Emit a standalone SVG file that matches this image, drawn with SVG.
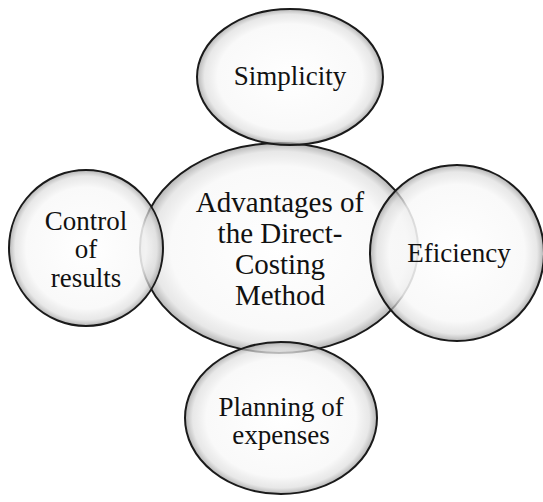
<svg xmlns="http://www.w3.org/2000/svg" width="543" height="502" viewBox="0 0 543 502">
  <style>
    .bubble { fill: url(#glass); stroke: #1a1a1a; stroke-width: 2; }
    text { font-family: "Liberation Serif", "Times New Roman", Times, serif; fill: #111; text-anchor: middle; }
    .small { font-size: 27px; }
    .big { font-size: 29px; }
  </style>
  <defs>
    <!-- glassy bubble: white core, grey rim, partly see-through so overlaps darken -->
    <radialGradient id="glass" cx="0.5" cy="0.5" r="0.5">
      <stop offset="0" stop-color="#ffffff" stop-opacity="0.92"/>
      <stop offset="0.78" stop-color="#f8f8f8" stop-opacity="0.85"/>
      <stop offset="0.92" stop-color="#dedede" stop-opacity="0.7"/>
      <stop offset="1" stop-color="#9c9c9c" stop-opacity="0.75"/>
    </radialGradient>
  </defs>

  <rect width="543" height="502" fill="#ffffff"/>

  <g id="connectors"/>

  <g id="node-center">
    <ellipse class="bubble" cx="279" cy="248" rx="139" ry="105"/>
    <text class="big" x="280" y="212">Advantages of</text>
    <text class="big" x="280" y="243">the Direct-</text>
    <text class="big" x="280" y="274">Costing</text>
    <text class="big" x="280" y="305">Method</text>
  </g>

  <g id="node-simplicity">
    <ellipse class="bubble" cx="290" cy="77" rx="93" ry="68"/>
    <text class="small" x="290" y="85">Simplicity</text>
  </g>

  <g id="node-control">
    <ellipse class="bubble" cx="86" cy="248" rx="77" ry="78"/>
    <text class="small" x="86" y="230">Control</text>
    <text class="small" x="86" y="258">of</text>
    <text class="small" x="86" y="287">results</text>
  </g>

  <g id="node-efficiency">
    <ellipse class="bubble" cx="457" cy="253" rx="87" ry="88"/>
    <text class="small" x="459" y="262">Eficiency</text>
  </g>

  <g id="node-planning">
    <ellipse class="bubble" cx="281" cy="418" rx="96" ry="76"/>
    <text class="small" x="281" y="416">Planning of</text>
    <text class="small" x="281" y="444">expenses</text>
  </g>
</svg>
